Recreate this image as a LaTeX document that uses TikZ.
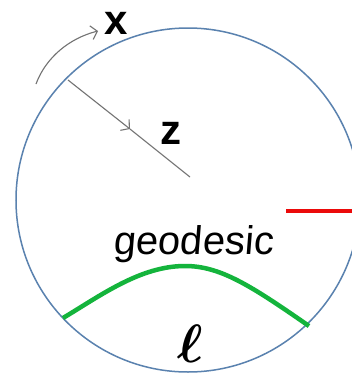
\documentclass[tikz,border=0pt]{standalone}
\usepackage{fontspec}
\setmainfont{Liberation Sans}
\newfontfamily\slantsans[FakeSlant=0.08]{Liberation Sans}
\usetikzlibrary{arrows.meta}
\definecolor{rimblue}{RGB}{90,130,175}
\definecolor{arrgray}{RGB}{115,115,115}
\definecolor{geogreen}{RGB}{20,180,60}
\definecolor{linered}{RGB}{235,10,10}
\tikzset{
  rim/.style={draw=rimblue, line width=1.5pt},
  grayline/.style={draw=arrgray, line width=1.1pt},
  grayarrow/.style={grayline, -{Straight Barb[length=6pt,width=14pt,line width=1.1pt]}},
  lbl/.style={inner sep=0pt, font=\fontsize{42}{46}\selectfont\bfseries},
}
\begin{document}
\begin{tikzpicture}[x=1pt,y=-1pt]
\useasboundingbox (0,0) rectangle (352,376);
\fill[white] (0,0) rectangle (352,376);
\clip (0,0) rectangle (352,376);
% boundary circle
\draw[rim] (188,200) circle[radius=172];
% rotation arrow and label x
\coordinate (xa) at (36,84);
\coordinate (xb) at (98,31);
\draw[grayarrow] (xa) .. controls (46,57) and (70,38) .. (xb);
\node[lbl] (xl) at (116,23) {x};
% radial direction z
\coordinate (za) at (68,80);
\coordinate (zm) at (130,129);
\coordinate (zb) at (190,177);
\draw[grayarrow] (za) -- (zm);
\draw[grayline] (zm) -- (zb);
\node[lbl] (zl) at (171,133) {z};
% red segment
\coordinate (ra) at (286,211);
\coordinate (rb) at (352,211);
\draw[draw=linered, line width=4.5pt] (ra) -- (rb);
% geodesic label
\node[inner sep=0pt, anchor=base west, font=\fontsize{40}{44}\selectfont\slantsans] (gl) at (113,254) {geodesic};
% green geodesic
\coordinate (ga) at (63,318);
\coordinate (gp) at (185,266);
\coordinate (gb) at (309,326);
\draw[draw=geogreen, line width=4.5pt] (ga) .. controls (100,296) and (140,266) .. (gp)
   .. controls (220,266) and (250,285) .. (gb);
% ell
\node[inner sep=0pt] (el) at (190,344) {\scalebox{5.4}{\boldmath$\ell$}};
\end{tikzpicture}
\end{document}
